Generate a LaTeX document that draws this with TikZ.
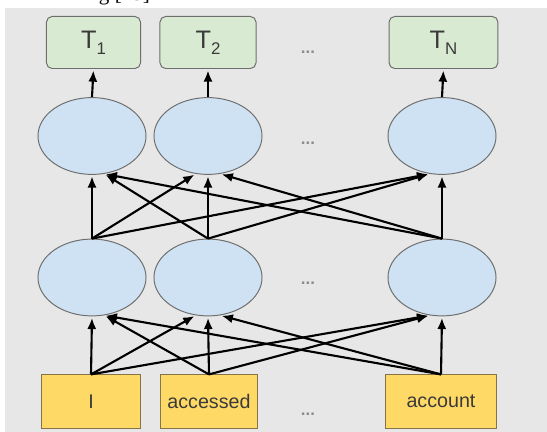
\documentclass[tikz,border=0pt]{standalone}
\usepackage{fontspec}
\setmainfont{Liberation Sans}
\newfontfamily\capfont{Liberation Serif}
\usetikzlibrary{arrows,arrows.meta,shapes.geometric}

\definecolor{bggray}{HTML}{E7E7E7}
\definecolor{outgreen}{HTML}{D9EAD3}
\definecolor{hidblue}{HTML}{CFE2F3}
\definecolor{wordyellow}{HTML}{FFD966}
\definecolor{edgegray}{HTML}{6E6E6E}
\definecolor{wordedge}{HTML}{857449}
\definecolor{labeltext}{HTML}{3A3A3A}

\begin{document}
\begin{tikzpicture}[x=0.025cm, y=-0.025cm, ->, >={Latex[length=8pt,width=6.5pt]}, shorten >=1pt, line width=1.5pt,
  out node/.style={rectangle, rounded corners=4pt, draw=edgegray, line width=0.7pt, fill=outgreen, minimum height=1.3cm, text=labeltext, font=\fontsize{18}{18}\selectfont},
  hid node/.style={ellipse, draw=edgegray, line width=0.7pt, fill=hidblue, minimum width=2.7cm, minimum height=1.92cm},
  word node/.style={rectangle, draw=wordedge, line width=0.7pt, fill=wordyellow, minimum height=1.33cm, text=labeltext, font=\fontsize{14}{14}\selectfont},
  dots node/.style={anchor=base, text=gray!90, font=\fontsize{12}{12}\selectfont\bfseries}]

\useasboundingbox (0,0) rectangle (547,432);
\fill[bggray] (5,8) rectangle (547,432);

% cut off caption line above the figure
\node[anchor=base east, inner sep=0, text=black, font=\capfont\fontsize{15}{15}\selectfont](cap) at (151,1) {ng [13]};

% output tags
\node[out node, minimum width=2.35cm](t1) at (93.5,42.5) {T\raisebox{-0.45ex}{\fontsize{12}{12}\selectfont 1}};
\node[out node, minimum width=2.4cm](t2) at (208,42.5) {T\raisebox{-0.45ex}{\fontsize{12}{12}\selectfont 2}};
\node[out node, minimum width=2.72cm](tN) at (443.5,42.5) {T\raisebox{-0.45ex}{\fontsize{12}{12}\selectfont N}};
\node[dots node](d1) at (308,54) {...};

% second hidden layer
\node[hid node](b1) at (92,136) {};
\node[hid node](b2) at (208,136) {};
\node[hid node](bN) at (442,136) {};
\node[dots node](d2) at (308,145) {...};

% first hidden layer
\node[hid node](a1) at (92,277.5) {};
\node[hid node](a2) at (208,277.5) {};
\node[hid node](aN) at (442,277.5) {};
\node[dots node](d3) at (308,285) {...};

% input words
\node[word node, minimum width=2.45cm](w1) at (91,401.5) {I};
\node[word node, minimum width=2.43cm](w2) at (209,401.5) {accessed};
\node[word node, minimum width=2.75cm](wN) at (441,401.5) {account};
\node[dots node](d4) at (308,416) {...};

\draw (w1.north) -- (a1.south);
\draw (w1.north) -- (a2.-108);
\draw (w1.north) -- (aN.-108);
\draw (w2.north) -- (a1.-72);
\draw (w2.north) -- (a2.south);
\draw (w2.north) -- (aN.-108);
\draw (wN.north) -- (a1.-72);
\draw (wN.north) -- (a2.-72);
\draw (wN.north) -- (aN.south);

\draw (a1.north) -- (b1.south);
\draw (a1.north) -- (b2.-108);
\draw (a1.north) -- (bN.-108);
\draw (a2.north) -- (b1.-72);
\draw (a2.north) -- (b2.south);
\draw (a2.north) -- (bN.-108);
\draw (aN.north) -- (b1.-72);
\draw (aN.north) -- (b2.-72);
\draw (aN.north) -- (bN.south);

\draw (b1.north) -- (t1.south);
\draw (b2.north) -- (t2.south);
\draw (bN.north) -- (tN.south);

\end{tikzpicture}
\end{document}
